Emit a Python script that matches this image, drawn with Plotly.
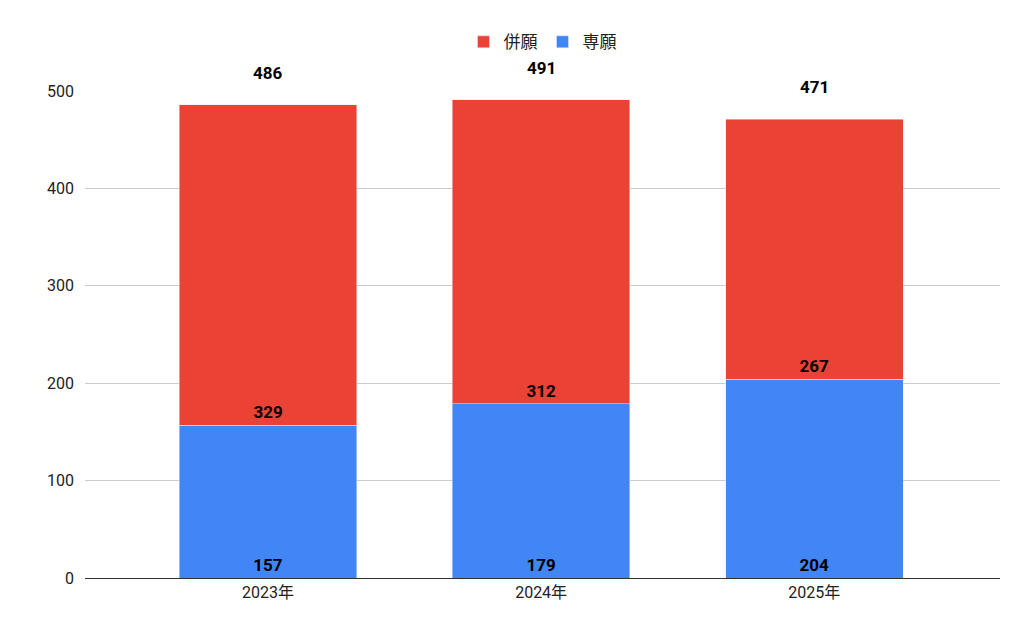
import plotly.graph_objects as go

years = ["2023年", "2024年", "2025年"]
senGan = [157, 179, 204]
heiGan = [329, 312, 267]
totals = [486, 491, 471]

font = "Roboto, 'Noto Sans CJK JP', sans-serif"
fig = go.Figure()
fig.add_bar(x=years, y=senGan, name="専願", marker_color="#4285F4", width=0.65,
            text=senGan, textposition="inside", insidetextanchor="start",
            textfont=dict(size=17, color="black", family=font, weight="bold"))
fig.add_bar(x=years, y=heiGan, name="併願", marker_color="#EA4335", width=0.65,
            text=heiGan, textposition="inside", insidetextanchor="start",
            textfont=dict(size=17, color="black", family=font, weight="bold"))
for x, t in zip(years, totals):
    fig.add_annotation(x=x, y=t, text=f"<b>{t}</b>", showarrow=False, yshift=32,
                       font=dict(size=17, color="black", family=font))
fig.update_layout(
    barmode="stack", width=1024, height=633, plot_bgcolor="white", paper_bgcolor="white",
    margin=dict(l=77, r=32, t=83, b=63), font=dict(family=font, size=16, color="#222"),
    legend=dict(orientation="h", x=0.5, xanchor="center", y=1.1, yanchor="middle",
                traceorder="reversed", font=dict(size=17)),
    xaxis=dict(range=[-0.67, 2.68], showline=True, linecolor="#333", tickfont=dict(size=16)),
    yaxis=dict(range=[0, 500], tickvals=[0, 100, 200, 300, 400, 500], gridcolor="#ccc",
               zeroline=False, tickfont=dict(size=16), ticklabelstandoff=10),
    uniformtext=dict(mode=False),
)
fig.write_html("out.html")
